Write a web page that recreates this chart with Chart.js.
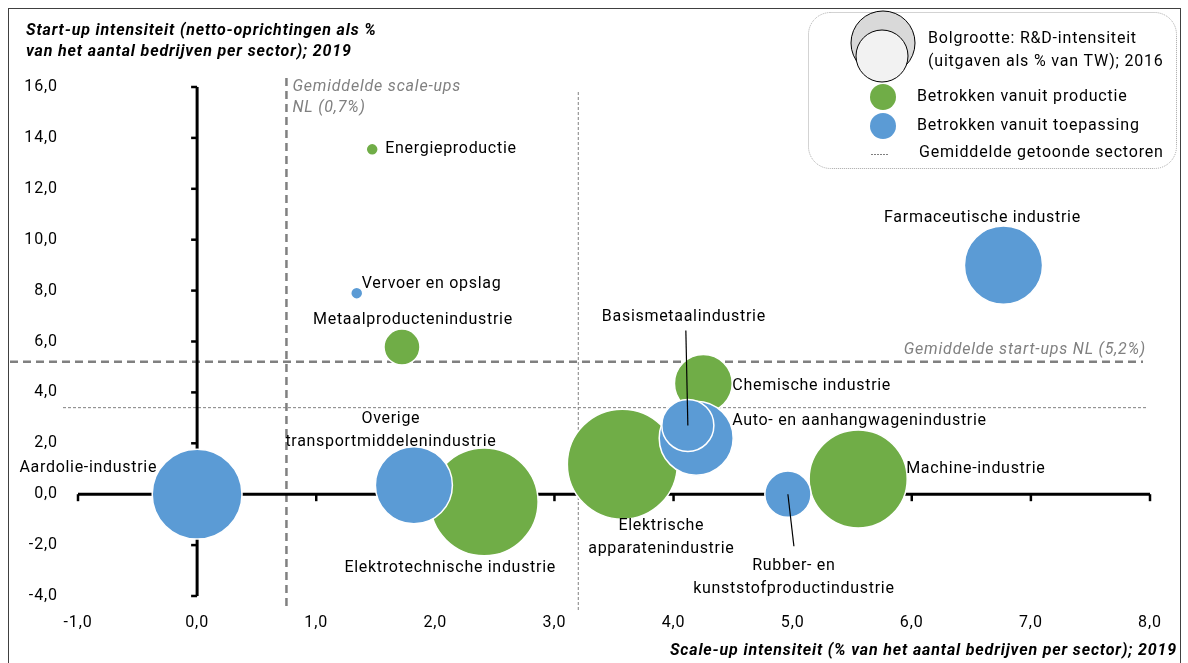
<!DOCTYPE html>
<html>
<head>
<meta charset="utf-8">
<script src="https://cdn.jsdelivr.net/npm/chart.js@4.4.1/dist/chart.umd.min.js"></script>
<style>
  html, body { margin: 0; padding: 0; background: #fff; }
</style>
</head>
<body>
<canvas id="bubble-chart" width="1188" height="663"></canvas>
<script>
// sectoren, scale-up intensiteit (x), start-up intensiteit (y), R&D-intensiteit (bolgrootte)
const sectors = [
  'Aardolie-industrie',
  'Overige transportmiddelenindustrie',
  'Elektrotechnische industrie',
  'Elektrische apparatenindustrie',
  'Auto- en aanhangwagenindustrie',
  'Basismetaalindustrie',
  'Chemische industrie',
  'Rubber- en kunststofproductindustrie',
  'Machine-industrie',
  'Farmaceutische industrie',
  'Energieproductie',
  'Vervoer en opslag',
  'Metaalproductenindustrie',
];
const scaleUp = [0.0, 1.82, 2.41, 3.57, 4.19, 4.12, 4.25, 4.96, 5.55, 6.77, 1.47, 1.34, 1.72];
const startUp = [0.0, 0.35, -0.3, 1.18, 2.2, 2.7, 4.35, 0.0, 0.6, 9.0, 13.55, 7.9, 5.78];
const rdIntensity = [14.0, 10.3, 20.2, 21.0, 9.5, 4.7, 5.8, 3.7, 16.7, 10.6, 0.25, 0.25, 2.25];
const involvement = ['toepassing', 'toepassing', 'productie', 'productie', 'toepassing', 'toepassing',
  'productie', 'toepassing', 'productie', 'toepassing', 'productie', 'toepassing', 'productie'];

const xTicks = [-1, 0, 1, 2, 3, 4, 5, 6, 7, 8];
const yTicks = [-4, -2, 0, 2, 4, 6, 8, 10, 12, 14, 16];

const avgScaleUpNL = 0.75;
const avgStartUpNL = 5.2;
const avgShownScaleUp = 3.2;
const avgShownStartUp = 3.4;

const GREEN = '#70ad47';
const BLUE = '#5b9bd5';
const FONT = 'Roboto';

// label placement (pixels relative to bubble centre)
const labelSpots = [
  { dx: -40, dy: -26, align: 'right', lines: ['Aardolie-industrie'] },
  { dx: -23, dy: -66, align: 'center', lines: ['Overige', 'transportmiddelenindustrie'] },
  { dx: -34, dy: 66, align: 'center', lines: ['Elektrotechnische industrie'] },
  { dx: 39, dy: 62, align: 'center', lines: ['Elektrische', 'apparatenindustrie'] },
  { dx: 36, dy: -17, align: 'left', lines: ['Auto- en aanhangwagenindustrie'] },
  { dx: -4, dy: -108, align: 'center', lines: ['Basismetaalindustrie'], leader: [-2, -95] },
  { dx: 29, dy: 3, align: 'left', lines: ['Chemische industrie'] },
  { dx: 6, dy: 72, align: 'center', lines: ['Rubber- en', 'kunststofproductindustrie'], leader: [6, 52] },
  { dx: 48, dy: -10, align: 'left', lines: ['Machine-industrie'] },
  { dx: -21, dy: -47, align: 'center', lines: ['Farmaceutische industrie'] },
  { dx: 13, dy: 0, align: 'left', lines: ['Energieproductie'] },
  { dx: 5, dy: -9, align: 'left', lines: ['Vervoer en opslag'] },
  { dx: 11, dy: -27, align: 'center', lines: ['Metaalproductenindustrie'] },
];

function radiusFor(v) {
  return 12 * Math.sqrt(v);
}

function buildSeries(group) {
  const points = [];
  sectors.forEach((name, i) => {
    if (involvement[i] !== group) return;
    points.push({ x: scaleUp[i], y: startUp[i], r: radiusFor(rdIntensity[i]), idx: i });
  });
  return points;
}

function fmt(v) {
  return v.toFixed(1).replace('.', ',');
}

const decorations = {
  id: 'decorations',
  beforeDraw(chart) {
    chart.ctx.letterSpacing = '0.9px';
  },
  beforeDatasetsDraw(chart) {
    const { ctx } = chart;
    const x = chart.scales.x;
    const y = chart.scales.y;
    ctx.save();

    // gemiddelde NL (dik gestreept)
    ctx.strokeStyle = '#808080';
    ctx.lineWidth = 2.5;
    ctx.setLineDash([8, 5]);
    let px = x.getPixelForValue(avgScaleUpNL);
    ctx.beginPath(); ctx.moveTo(px, 78); ctx.lineTo(px, 607); ctx.stroke();
    let py = y.getPixelForValue(avgStartUpNL);
    ctx.beginPath(); ctx.moveTo(10, py); ctx.lineTo(1143, py); ctx.stroke();

    // gemiddelde getoonde sectoren (dun gestippeld)
    ctx.lineWidth = 1;
    ctx.setLineDash([3, 2]);
    px = x.getPixelForValue(avgShownScaleUp);
    ctx.beginPath(); ctx.moveTo(px, 92); ctx.lineTo(px, 610); ctx.stroke();
    py = y.getPixelForValue(avgShownStartUp);
    ctx.beginPath(); ctx.moveTo(63, py); ctx.lineTo(1148, py); ctx.stroke();

    // assen door nul
    ctx.setLineDash([]);
    ctx.strokeStyle = '#000';
    ctx.lineWidth = 3;
    const x0 = x.getPixelForValue(0);
    const y0 = y.getPixelForValue(0);
    ctx.beginPath(); ctx.moveTo(x0, y.top); ctx.lineTo(x0, y.bottom); ctx.stroke();
    ctx.beginPath(); ctx.moveTo(x.left, y0); ctx.lineTo(x.right, y0); ctx.stroke();
    ctx.lineWidth = 2.5;
    yTicks.forEach(v => {
      const t = y.getPixelForValue(v);
      ctx.beginPath(); ctx.moveTo(x0 - 6, t); ctx.lineTo(x0, t); ctx.stroke();
    });
    xTicks.forEach(v => {
      const t = x.getPixelForValue(v);
      ctx.beginPath(); ctx.moveTo(t, y0); ctx.lineTo(t, y0 + 7); ctx.stroke();
    });

    // toelichting bij de NL-lijnen
    ctx.fillStyle = '#808080';
    ctx.font = `italic 16px ${FONT}`;
    ctx.letterSpacing = '0.8px';
    ctx.textBaseline = 'middle';
    ctx.textAlign = 'left';
    const sx = x.getPixelForValue(avgScaleUpNL) + 6;
    ctx.fillText('Gemiddelde scale-ups', sx, 87);
    ctx.fillText('NL (0,7%)', sx, 108);
    ctx.textAlign = 'right';
    ctx.fillText('Gemiddelde start-ups NL (5,2%)', 1146, y.getPixelForValue(avgStartUpNL) - 12);
    ctx.restore();
  },
  afterDatasetsDraw(chart) {
    const { ctx } = chart;
    const x = chart.scales.x;
    const y = chart.scales.y;
    ctx.save();
    ctx.letterSpacing = '0.7px';

    // sectorlabels
    ctx.fillStyle = '#000';
    ctx.strokeStyle = '#000';
    ctx.lineWidth = 1.2;
    ctx.font = `16px ${FONT}`;
    ctx.textBaseline = 'middle';
    labelSpots.forEach((spot, i) => {
      const cx = x.getPixelForValue(scaleUp[i]);
      const cy = y.getPixelForValue(startUp[i]);
      if (spot.leader) {
        ctx.beginPath();
        ctx.moveTo(cx, cy);
        ctx.lineTo(cx + spot.leader[0], cy + spot.leader[1]);
        ctx.stroke();
      }
      ctx.textAlign = spot.align;
      spot.lines.forEach((line, k) => {
        ctx.fillText(line, cx + spot.dx, cy + spot.dy + k * 23);
      });
    });

    // astitels
    ctx.font = `bold italic 16px ${FONT}`;
    ctx.letterSpacing = '0.85px';
    ctx.textAlign = 'left';
    ctx.fillText('Start-up intensiteit (netto-oprichtingen als %', 26, 31);
    ctx.fillText('van het aantal bedrijven per sector); 2019', 26, 52);
    ctx.textAlign = 'right';
    ctx.fillText('Scale-up intensiteit (% van het aantal bedrijven per sector); 2019', 1177, 651);

    // legenda
    ctx.strokeStyle = '#a6a6a6';
    ctx.lineWidth = 1;
    ctx.setLineDash([1, 1]);
    ctx.beginPath();
    ctx.roundRect(808.5, 12.5, 368, 156, 22);
    ctx.stroke();
    ctx.setLineDash([]);

    ctx.strokeStyle = '#000';
    ctx.fillStyle = '#d9d9d9';
    ctx.beginPath(); ctx.arc(883, 43, 32, 0, Math.PI * 2); ctx.fill(); ctx.stroke();
    ctx.fillStyle = '#f2f2f2';
    ctx.beginPath(); ctx.arc(882, 56, 26, 0, Math.PI * 2); ctx.fill(); ctx.stroke();

    ctx.fillStyle = GREEN;
    ctx.beginPath(); ctx.arc(883, 97, 13, 0, Math.PI * 2); ctx.fill();
    ctx.fillStyle = BLUE;
    ctx.beginPath(); ctx.arc(883, 126, 13, 0, Math.PI * 2); ctx.fill();
    ctx.strokeStyle = '#808080';
    ctx.setLineDash([2, 1]);
    ctx.beginPath(); ctx.moveTo(871, 154.5); ctx.lineTo(888, 154.5); ctx.stroke();
    ctx.setLineDash([]);

    ctx.fillStyle = '#000';
    ctx.font = `16px ${FONT}`;
    ctx.letterSpacing = '0.8px';
    ctx.textAlign = 'left';
    ctx.fillText('Bolgrootte: R&D-intensiteit', 928, 39);
    ctx.fillText('(uitgaven als % van TW); 2016', 928, 62);
    ctx.fillText('Betrokken vanuit productie', 917, 97);
    ctx.fillText('Betrokken vanuit toepassing', 917, 126);
    ctx.fillText('Gemiddelde getoonde sectoren', 919, 153);

    // kader
    ctx.strokeStyle = '#404040';
    ctx.lineWidth = 1;
    ctx.strokeRect(8.5, 8.5, 1172, 670);
    ctx.restore();
  },
};

const $canvas = document.getElementById('bubble-chart');

new Chart($canvas, {
  type: 'bubble',
  data: {
    datasets: [
      {
        label: 'Betrokken vanuit toepassing',
        data: buildSeries('toepassing'),
        backgroundColor: BLUE,
        borderColor: '#ffffff',
        borderWidth: 1.5,
        order: 1,
      },
      {
        label: 'Betrokken vanuit productie',
        data: buildSeries('productie'),
        backgroundColor: GREEN,
        borderColor: '#ffffff',
        borderWidth: 1.5,
        order: 2,
      },
    ],
  },
  options: {
    responsive: false,
    animation: false,
    clip: false,
    layout: {
      autoPadding: false,
      padding: { top: 87, right: 38, left: 0, bottom: 0 },
    },
    plugins: {
      legend: { display: false },
      tooltip: { enabled: false },
    },
    scales: {
      x: {
        type: 'linear',
        min: -1,
        max: 8,
        afterBuildTicks: s => { s.ticks = xTicks.map(v => ({ value: v })); },
        afterFit: s => { s.height = 67; },
        grid: { display: false, drawTicks: false },
        border: { display: false },
        ticks: {
          padding: 17,
          color: '#000',
          font: { family: FONT, size: 16 },
          callback: v => fmt(v),
        },
      },
      y: {
        type: 'linear',
        min: -4,
        max: 16,
        afterBuildTicks: s => { s.ticks = yTicks.map(v => ({ value: v })); },
        afterFit: s => { s.width = 78; },
        grid: { display: false, drawTicks: false },
        border: { display: false },
        ticks: {
          padding: 20,
          color: '#000',
          font: { family: FONT, size: 16 },
          callback: v => fmt(v),
        },
      },
    },
  },
  plugins: [decorations],
});
</script>
</body>
</html>
